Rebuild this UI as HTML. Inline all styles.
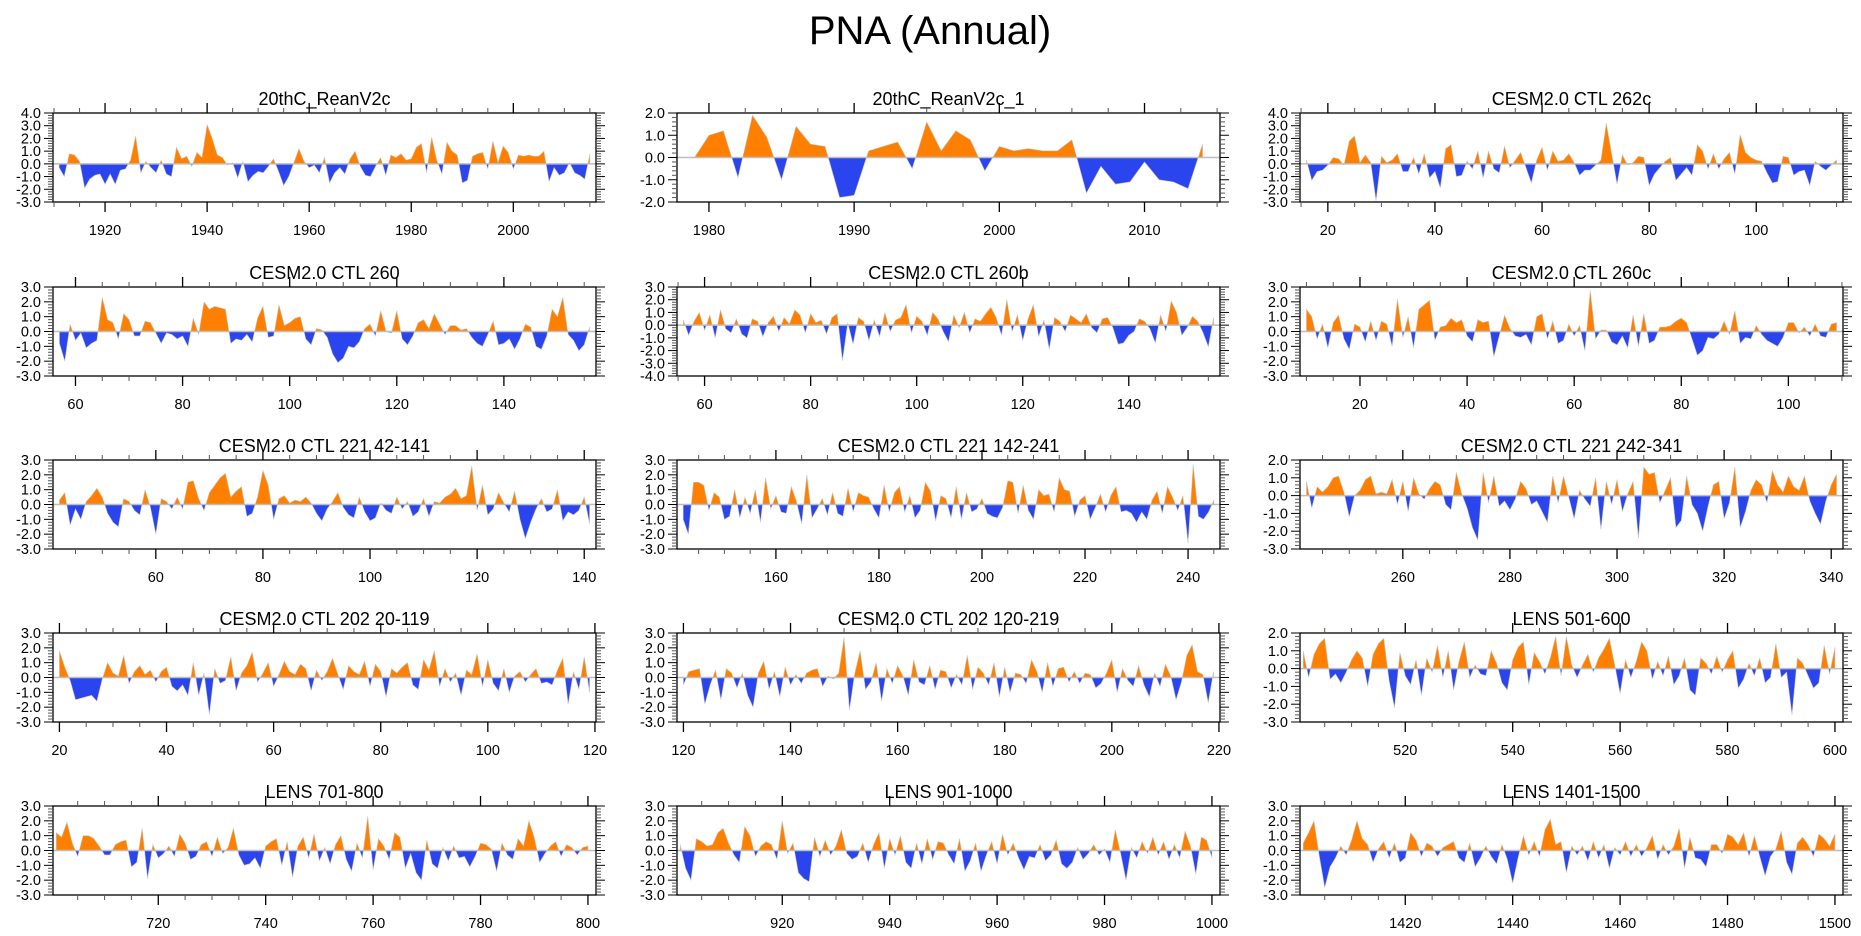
<!DOCTYPE html>
<html><head><meta charset="utf-8"><title>PNA (Annual)</title>
<style>
html,body{margin:0;padding:0;background:#fff;}
svg{display:block;font-family:"Liberation Sans",sans-serif;}
</style></head>
<body>
<svg id="chart" width="1861" height="936" viewBox="0 0 1861 936" xmlns="http://www.w3.org/2000/svg">
<text x="930" y="44" font-size="40" text-anchor="middle" fill="#000">PNA (Annual)</text>
</svg>
<script>
const titles = ["20thC_ReanV2c","20thC_ReanV2c_1","CESM2.0 CTL 262c","CESM2.0 CTL 260","CESM2.0 CTL 260b","CESM2.0 CTL 260c","CESM2.0 CTL 221 42-141","CESM2.0 CTL 221 142-241","CESM2.0 CTL 221 242-341","CESM2.0 CTL 202 20-119","CESM2.0 CTL 202 120-219","LENS 501-600","LENS 701-800","LENS 901-1000","LENS 1401-1500"];
const startYears = [1911,1979,16,57,56,10,42,142,242,20,120,501,701,901,1401];
const yMins = [-3,-2,-3,-3,-4,-3,-3,-3,-3,-3,-3,-3,-3,-3,-3];
const yMaxs = [4,2,4,3,3,3,3,3,2,3,3,2,3,3,3];
const majorSteps = [20,10,20,20,20,20,20,20,20,20,20,20,20,20,20];
const s0 = [-0.3,-1.0,0.8,0.7,0.2,-1.9,-1.2,-0.9,-0.8,-1.6,-0.8,-1.6,-0.5,-0.4,0.3,2.2,-0.7,0.2,-0.3,-0.7,0.3,-0.8,-1.0,1.3,0.4,0.6,-0.2,0.9,0.5,3.1,2.0,0.7,0.5,-0.1,0.1,-1.1,0.2,-1.4,-0.9,-0.6,-0.7,-0.2,0.4,-0.6,-1.7,-1.0,0.1,1.2,0.2,-0.3,-0.1,-0.7,0.5,-1.5,-0.7,-0.3,-0.8,0.4,1.0,-0.2,-0.9,-1.0,-0.2,0.5,-0.9,0.7,0.5,0.8,0.3,0.4,1.3,1.6,-0.7,2.1,0.3,-0.8,1.7,1.0,0.7,-1.5,-1.3,0.6,0.8,0.9,-0.4,1.8,0.1,1.4,0.9,-0.4,0.7,0.6,0.7,0.6,0.6,1.0,-1.4,-0.3,-0.9,-0.7,0.1,-0.7,-0.9,-1.2,0.8];
const s1 = [0.0,1.0,1.2,-0.9,1.9,0.9,-1.0,1.4,0.6,0.5,-1.8,-1.7,0.3,0.5,0.7,-0.5,1.6,0.3,1.2,0.8,-0.6,0.5,0.3,0.4,0.3,0.3,0.8,-1.6,-0.4,-1.2,-1.1,-0.2,-1.0,-1.1,-1.4,0.6];
const s2 = [0.3,-1.3,-0.6,-0.5,-0.1,0.5,0.4,-0.1,1.8,2.2,0.1,0.7,0.1,-2.9,0.6,0.1,0.3,0.8,-0.6,-0.6,0.5,-0.8,0.8,-1.1,-0.6,-1.9,1.2,1.5,-1.0,-0.9,0.2,-0.4,1.0,-1.1,1.0,-0.4,-0.7,1.4,-0.3,0.3,0.9,-0.3,-1.5,0.3,1.3,-0.5,1.0,0.2,0.3,0.8,0.1,-0.9,-0.5,-0.5,-0.1,0.3,3.2,0.8,-1.6,0.7,-0.1,0.1,0.6,0.5,-1.7,-0.8,-0.3,0.2,0.5,-1.3,-0.8,-0.3,-0.9,1.5,1.0,-0.4,0.8,-0.4,0.4,0.9,-0.8,2.3,0.9,0.5,0.3,0.2,-0.7,-1.5,-1.4,0.6,0.5,-0.9,-0.6,-0.5,-1.7,0.2,-0.2,-0.5,-0.1,0.3];
const s3 = [-0.8,-2.0,0.5,-0.6,-0.1,-1.1,-0.8,-0.6,2.3,0.8,0.6,-0.5,1.2,0.8,-0.3,-0.3,0.7,0.6,-0.1,-0.8,-0.1,-0.2,-0.5,-0.3,-1.0,0.9,-0.2,2.0,1.5,1.7,1.6,1.5,-0.8,-0.5,-0.6,-0.2,-0.7,0.9,1.7,-0.4,-0.3,1.8,0.4,0.6,0.9,1.0,-0.5,-0.9,0.2,0.1,-0.4,-1.5,-2.1,-1.8,-1.0,-1.1,-0.7,0.2,0.5,-0.3,1.4,0.0,-0.1,1.4,-0.5,-0.9,-0.3,0.6,0.8,0.2,1.2,0.5,-0.2,0.4,0.4,0.1,0.2,-0.4,-0.8,-1.0,-0.2,0.7,-0.9,-0.8,-0.5,-1.2,-0.5,0.5,0.3,-1.0,-1.2,-0.3,1.5,1.0,2.3,-0.2,-0.6,-1.3,-0.9,0.3];
const s4 = [0.4,-0.8,0.3,1.0,-0.4,0.8,-1.0,1.2,-0.3,-0.6,0.5,-0.7,-1.0,0.5,0.3,-0.9,0.2,0.7,-0.5,0.6,0.1,1.2,0.8,-0.6,0.9,0.2,0.4,-0.7,0.6,0.9,-2.8,0.2,-1.5,0.6,0.3,-1.2,0.4,-0.9,1.0,-0.5,0.4,0.6,1.6,-0.6,0.7,0.3,-0.8,1.0,0.5,-0.5,-1.3,0.8,-0.2,1.0,-0.6,0.5,0.3,0.9,1.4,0.6,-0.8,2.0,-0.5,0.8,-1.2,0.5,1.6,-0.9,0.4,-1.9,0.6,0.3,-0.5,0.8,0.5,0.2,0.9,-0.2,-0.6,0.5,0.6,-0.2,-1.5,-1.4,-0.8,-0.5,0.5,0.3,-0.3,-1.4,0.8,-0.5,1.9,1.0,-0.8,-0.2,0.7,0.3,-0.6,-1.7,0.6];
const s5 = [1.5,1.0,-0.5,0.5,-1.1,0.6,1.1,-0.5,-1.2,0.5,0.3,-0.7,0.7,-0.6,0.7,0.5,-1.0,2.2,-0.4,1.0,-1.1,1.5,1.8,2.1,-0.6,0.3,0.4,0.9,0.6,0.8,-0.3,-0.7,0.8,0.6,0.7,-1.7,-0.3,1.1,0.2,-0.3,-0.4,-0.2,-0.9,1.0,1.2,-0.5,0.7,-0.8,-0.6,0.5,-0.3,0.4,-1.3,2.8,-0.5,0.1,0.1,-0.7,-0.9,-0.3,-1.1,1.1,-1.0,1.2,-0.8,-0.6,0.3,0.3,0.4,0.7,0.9,0.6,-0.5,-1.6,-1.3,-0.4,-0.5,-0.2,0.7,-0.2,1.4,-0.8,-0.4,-0.5,0.4,-0.2,-0.6,-0.8,-1.0,-0.4,0.6,0.6,-0.1,0.3,-0.3,0.5,-0.3,-0.4,0.5,0.6];
const s6 = [0.3,0.8,-1.4,-0.3,-1.0,0.2,0.6,1.1,0.5,-0.6,-1.2,-1.5,0.4,0.2,-0.4,-0.7,1.0,-0.2,-2.0,0.4,0.2,-0.3,0.5,-0.3,1.5,1.6,0.4,-0.4,0.8,1.3,1.8,2.1,0.5,0.9,1.2,-0.8,-0.6,0.5,2.3,1.3,-1.0,0.4,0.6,0.1,0.3,0.2,0.5,0.1,-0.6,-1.1,-0.3,0.2,0.8,-0.2,-0.7,-0.9,0.5,-0.5,-1.1,-0.9,0.1,-0.4,-0.6,0.5,-0.3,0.2,-0.8,-0.5,0.4,-0.8,0.2,0.1,0.5,0.7,1.1,0.4,0.6,2.6,-0.4,1.3,-0.7,-0.3,0.8,0.1,-0.5,0.9,-1.0,-2.3,-1.2,-0.3,0.4,-0.5,-0.3,1.0,-1.1,-0.5,-0.7,-0.4,0.5,-1.3];
const s7 = [-1.0,-2.0,1.5,1.5,1.3,-0.4,0.8,0.5,-1.0,-0.8,1.0,-0.9,0.5,-0.6,1.0,-1.2,1.8,-0.3,0.6,-0.5,-0.6,1.2,0.2,-1.3,2.0,-0.9,-0.3,0.4,-0.7,0.8,-0.6,-0.8,1.1,-0.5,0.8,0.6,0.5,-0.3,-0.9,1.3,-0.5,0.8,1.2,-0.5,0.6,-0.9,-0.4,1.5,0.9,-1.1,0.6,0.4,-0.9,1.2,-1.0,0.8,-0.5,-0.3,0.4,-0.6,-0.8,-0.9,-0.2,1.6,1.5,-0.6,1.3,-0.4,-1.0,1.0,0.6,0.7,-0.5,1.8,1.0,0.9,-0.8,0.3,0.6,-1.0,-0.2,0.7,-0.5,0.6,1.2,-0.5,-0.4,-0.6,-1.2,-0.5,-1.0,0.3,0.9,-0.6,1.2,0.5,-0.4,0.6,-2.6,2.7,-0.8,-1.0,-0.5,0.3];
const s8 = [0.8,-0.7,0.5,0.2,0.5,1.0,1.1,0.2,-1.2,0.0,0.3,0.9,1.1,0.1,0.2,0.1,0.9,-0.5,0.8,-0.9,1.0,0.1,-0.2,0.4,0.8,0.6,-0.5,-0.8,1.3,0.1,-0.7,-1.8,-2.5,1.3,-0.4,1.1,-0.6,-0.3,-0.8,-0.2,0.8,0.4,-0.5,-0.3,-0.9,-1.5,1.1,-0.4,1.1,-0.1,-1.3,0.3,-0.2,-0.6,1.0,-1.9,0.8,-0.5,0.9,-0.9,0.1,0.8,-2.4,1.6,1.2,1.3,-0.4,0.3,1.0,-1.8,-1.4,1.1,-0.5,-1.0,-2.0,-0.6,0.6,0.8,-1.3,-0.4,1.6,-1.8,-0.9,0.3,0.9,0.6,-0.4,1.4,0.6,0.2,1.1,0.5,0.3,1.1,-0.3,-1.0,-1.6,-0.3,0.6,1.2];
const s9 = [1.8,0.7,-0.2,-1.5,-1.4,-1.3,-1.2,-1.6,-0.1,1.0,0.3,0.1,1.5,-0.4,0.4,0.8,0.2,0.5,-0.3,0.4,0.7,-0.6,-0.9,-0.5,-1.2,1.0,-1.2,0.3,-2.5,0.6,-0.4,-0.2,1.4,-0.9,0.3,0.8,1.7,-0.3,0.3,1.0,-0.6,0.2,1.1,0.4,0.2,0.9,0.6,-0.9,0.5,-0.2,0.4,1.3,0.2,-0.8,0.8,0.4,0.2,1.1,-0.6,0.9,0.4,-1.3,0.6,0.3,0.7,1.0,-0.5,-0.8,1.2,0.5,1.8,-0.6,0.6,-0.3,0.3,-1.2,0.5,0.2,1.6,-0.6,1.2,-0.4,-0.9,0.6,-1.0,0.1,0.4,-0.3,0.2,0.6,-0.4,-0.3,-0.5,0.5,1.3,-1.8,0.4,-0.8,1.4,-1.0];
const s10 = [-0.5,0.4,0.5,0.6,-1.8,-0.5,0.5,-1.5,0.6,0.3,-0.7,0.3,-1.2,-2.0,0.3,1.1,-0.8,0.4,-1.3,0.7,-0.5,0.2,-0.4,0.3,0.5,0.6,-0.6,0.1,-0.1,0.3,2.7,-2.2,0.3,1.8,-0.8,-0.3,1.0,-1.6,0.6,-0.4,0.8,0.1,-1.2,1.2,-0.3,-0.5,0.8,-0.8,0.5,0.4,-0.7,0.2,-0.5,1.5,-0.8,0.7,0.3,-0.5,1.0,-1.3,0.7,-1.0,0.3,0.2,-0.4,1.2,0.4,-1.0,1.0,-0.6,0.6,0.7,-0.3,0.4,-0.4,0.3,0.2,-0.7,-0.4,0.3,1.2,-1.0,0.6,-0.2,-0.6,0.8,-0.5,-1.3,0.3,-0.6,0.9,0.1,-1.5,-0.3,1.5,2.2,0.4,0.2,-1.7,0.4];
const s11 = [1.0,-0.5,0.8,1.4,1.7,-0.6,-0.3,-0.8,-0.2,0.5,1.0,0.6,-1.0,0.8,1.4,1.7,-0.7,-2.2,0.9,-0.4,-0.9,0.5,-1.5,0.6,-0.2,1.3,-0.5,1.0,-1.2,0.4,1.5,-0.5,0.2,-0.3,-0.4,1.0,0.3,-0.8,-1.2,0.5,1.2,1.5,-0.9,0.9,0.4,-0.3,0.6,1.8,-0.4,1.8,0.2,-0.5,0.2,0.8,-0.2,0.6,1.1,1.7,0.2,-1.4,0.5,-0.5,0.4,1.5,1.0,-0.6,0.4,-0.4,0.7,-0.9,-0.4,0.6,-1.2,-1.5,0.6,0.3,-0.3,0.7,-0.2,0.5,1.0,-1.1,-0.6,0.3,-0.4,0.6,-0.8,-0.5,1.4,-0.5,-0.2,-2.6,0.6,0.3,-0.4,-1.1,-0.8,1.3,-0.3,1.2];
const s12 = [1.2,0.9,1.9,0.5,-0.4,1.0,1.0,0.8,0.3,-0.3,-0.3,0.4,0.6,0.7,-1.1,-0.8,1.5,-1.9,0.4,-0.5,-0.2,0.3,-0.4,1.1,0.5,-0.6,-0.4,0.4,0.6,-0.4,0.9,-0.2,0.2,1.5,-0.3,-1.0,-0.9,-0.5,-1.2,0.3,0.6,0.8,-1.0,0.6,-1.8,0.3,0.9,-0.5,1.1,-0.7,0.2,-0.9,0.4,1.0,-0.6,-1.4,0.5,-0.5,2.3,-1.3,0.8,0.3,-0.6,1.2,0.9,-1.2,-0.2,-1.5,-2.0,0.7,-0.9,-1.2,0.2,-0.7,0.3,-0.5,-0.4,-1.1,-0.4,0.5,0.4,0.1,-1.4,0.5,-0.3,-0.6,0.8,0.3,2.0,0.9,-0.8,-0.2,0.3,0.6,-0.4,0.4,0.2,-0.3,0.2,0.3];
const s13 = [0.4,-1.2,-2.0,0.8,0.6,0.3,0.4,1.2,1.5,0.5,-0.3,-0.8,1.6,1.0,-0.4,0.3,0.6,0.4,-0.6,2.0,-0.2,0.5,-1.5,-1.9,-2.1,0.9,-0.4,0.7,-0.3,0.3,1.4,-0.2,-0.6,-0.4,0.5,-0.8,0.4,1.2,-1.2,0.8,-0.3,1.0,-0.8,-1.2,0.5,-0.9,0.8,-0.6,0.6,0.5,-0.3,-0.9,0.8,-1.4,-0.7,0.5,-1.4,-0.3,0.6,-0.9,1.1,-0.3,0.5,-0.5,-1.3,-0.4,-0.5,0.4,-0.7,-0.3,0.7,-0.9,-1.2,-0.8,0.2,-0.6,-0.2,0.4,-0.3,0.1,-0.8,1.4,-0.2,-2.0,0.2,-0.5,0.6,-0.2,0.9,-0.3,0.6,-0.6,0.4,-0.5,1.3,0.3,-1.6,0.9,0.7,-0.5];
const s14 = [0.5,1.2,2.0,-0.4,-2.5,-1.1,-0.5,0.3,-0.3,0.7,2.0,0.8,0.4,-0.8,0.1,0.6,-0.5,0.5,-0.8,-0.5,1.2,0.7,-0.4,0.5,0.3,-0.4,0.2,0.4,0.6,-0.5,-0.8,0.5,-1.1,-0.5,0.3,-0.4,-0.9,0.4,-0.6,-2.2,-0.5,1.0,-0.3,0.6,-0.4,1.4,2.1,0.4,0.6,-1.5,0.3,-0.3,0.3,-0.7,0.6,-0.5,0.4,-1.2,0.2,-0.3,0.6,-0.4,0.4,-0.4,0.2,1.0,-0.6,0.4,-0.3,0.3,1.5,-1.2,0.9,-0.5,-0.6,-1.1,0.4,0.4,-0.2,1.1,0.9,0.4,1.2,-0.4,1.0,-0.4,-1.7,-0.4,0.1,1.3,-0.8,-1.6,0.5,0.9,0.4,-0.4,1.1,0.8,0.3,1.1];
const seriesList = [s0,s1,s2,s3,s4,s5,s6,s7,s8,s9,s10,s11,s12,s13,s14];

const NS = "http://www.w3.org/2000/svg";
const svg = document.getElementById("chart");
const colLefts = [53, 677, 1300];
const rowTops = [113, 287, 460, 633, 806];
const PW = 543, PH = 89;
function mk(tag, attrs, parent){const e=document.createElementNS(NS,tag);for(const k in attrs)e.setAttribute(k,attrs[k]);(parent||svg).appendChild(e);return e;}

for (let p = 0; p < 15; p++) {
  const L = colLefts[p % 3], T = rowTops[Math.floor(p / 3)];
  const data = seriesList[p], st = startYears[p];
  const n = data.length;
  const lens = p >= 11;
  const x0 = lens ? st - 0.6 : st - 1.2;
  const x1 = lens ? st + n - 1 + 1.5 : st + n - 1 + 1.2;
  const yMin = yMins[p], yMax = yMaxs[p];
  const X = v => L + (v - x0) / (x1 - x0) * PW;
  const Y = v => T + (yMax - v) / (yMax - yMin) * PH;
  const g = mk("g", {});
  
  

  const t = mk("text", {x: L + PW / 2, y: T - 8, "font-size": 18, "text-anchor": "middle", fill: "#000"}, g);
  t.textContent = titles[p];
  
  

  const y0 = Y(0);
  let d = "M" + X(st).toFixed(2) + "," + y0.toFixed(2);
  for (let i = 0; i < n; i++) d += " L" + X(st + i).toFixed(2) + "," + Y(data[i]).toFixed(2);
  d += " L" + X(st + n - 1).toFixed(2) + "," + y0.toFixed(2) + " Z";
  const cu = mk("clipPath", {id: "cu" + p}, g);
  mk("rect", {x: L, y: T, width: PW, height: y0 - T}, cu);
  const cd = mk("clipPath", {id: "cd" + p}, g);
  mk("rect", {x: L, y: y0, width: PW, height: T + PH - y0}, cd);
  const pos = mk("path", {d: d, fill: "#ff8000", "clip-path": "url(#cu" + p + ")", stroke: "#c8c8c8", "stroke-width": 0.6}, g);
  
  
  const neg = mk("path", {d: d, fill: "#2a45ee", "clip-path": "url(#cd" + p + ")", stroke: "#c8c8c8", "stroke-width": 0.6}, g);
  
  
  const zl = mk("line", {x1: L, x2: L + PW, y1: y0, y2: y0, stroke: "#bdbdbd", "stroke-width": 1.5}, g);
  
  

  const fr = mk("rect", {x: L, y: T, width: PW, height: PH, fill: "none", stroke: "#000", "stroke-width": 1.3}, g);
  
  

  for (let v = yMin; v <= yMax + 1e-6; v += 0.2) {
    const vv = Math.round(v * 10) / 10;
    const major = Math.abs(vv - Math.round(vv)) < 1e-6;
    const yy = Y(vv);
    const len = major ? 9 : 5;
    mk("line", {x1: L - len, x2: L, y1: yy, y2: yy, stroke: major ? "#000" : "#555", "stroke-width": 1}, g);
    mk("line", {x1: L + PW, x2: L + PW + len, y1: yy, y2: yy, stroke: major ? "#000" : "#555", "stroke-width": 1}, g);
    if (major) {
      const lb = mk("text", {x: L - 12, y: yy + 5, "font-size": 14.5, "text-anchor": "end", fill: "#000"}, g);
      lb.textContent = vv.toFixed(1);
      
      
    }
  }
  const ms = majorSteps[p], mn = ms / 4;
  for (let v = Math.ceil(x0 / mn) * mn; v <= x1; v += mn) {
    const major = Math.abs(v / ms - Math.round(v / ms)) < 1e-6;
    const xx = X(v), len = major ? 10 : 5;
    mk("line", {x1: xx, x2: xx, y1: T + PH, y2: T + PH + len, stroke: major ? "#000" : "#555", "stroke-width": major ? 1.3 : 1}, g);
    mk("line", {x1: xx, x2: xx, y1: T - len, y2: T, stroke: major ? "#000" : "#555", "stroke-width": major ? 1.3 : 1}, g);
    if (major) {
      const lb = mk("text", {x: xx, y: T + PH + 33, "font-size": 14.5, "text-anchor": "middle", fill: "#000"}, g);
      lb.textContent = String(Math.round(v));
      
      
    }
  }
}
</script>
</body></html>
